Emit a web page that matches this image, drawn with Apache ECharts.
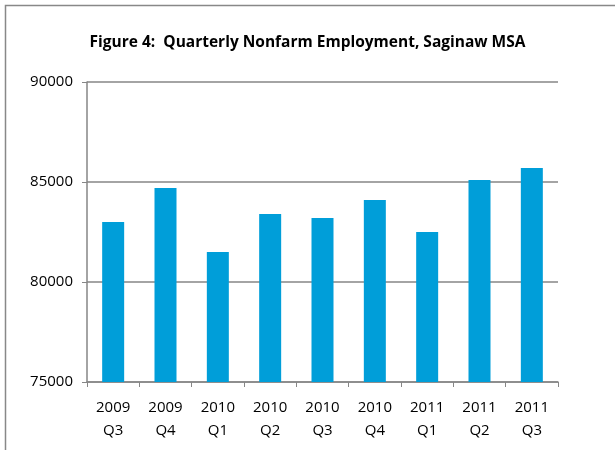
<!DOCTYPE html>
<html>
<head>
<meta charset="utf-8">
<script src="https://cdn.jsdelivr.net/npm/echarts@6/dist/echarts.min.js"></script>
<style>
  html, body { margin: 0; padding: 0; background: #fff; }
  #chart { width: 615px; height: 450px; }
</style>
</head>
<body>
<div id="chart"></div>
<script>
// quarters along the x axis
const quarters = ['2009\nQ3', '2009\nQ4', '2010\nQ1', '2010\nQ2', '2010\nQ3', '2010\nQ4', '2011\nQ1', '2011\nQ2', '2011\nQ3'];
// nonfarm employment
const employment = [83000, 84700, 81500, 83400, 83200, 84100, 82500, 85100, 85700];
const yMin = 75000;
const yMax = 90000;
const yStep = 5000;

const myChart = echarts.init(document.getElementById('chart'));
const font = 'Open Sans, Noto Sans, sans-serif';

const option = {
  animation: false,
  title: {
    text: 'Figure 4:  Quarterly Nonfarm Employment, Saginaw MSA',
    left: 'center',
    top: 30,
    textStyle: {
      fontFamily: font,
      fontSize: 15.5,
      fontWeight: 'bold',
      color: '#000'
    }
  },
  graphic: [
    {
      type: 'rect',
      shape: { x: 5.5, y: 5.5, width: 620, height: 460 },
      style: { fill: 'none', stroke: '#888', lineWidth: 1.5 }
    }
  ],
  grid: {
    left: 87,
    right: 57,
    top: 82,
    bottom: 68
  },
  xAxis: {
    type: 'category',
    data: quarters,
    axisLine: { lineStyle: { color: '#868686', width: 1.5 } },
    axisTick: { show: true, length: 5, lineStyle: { color: '#868686' } },
    axisLabel: {
      fontFamily: font,
      fontSize: 15,
      color: '#000',
      lineHeight: 23,
      margin: 14
    }
  },
  yAxis: {
    type: 'value',
    min: yMin,
    max: yMax,
    interval: yStep,
    axisLine: { show: true, lineStyle: { color: '#868686', width: 1.5 } },
    axisTick: { show: true, length: 5, lineStyle: { color: '#868686' } },
    axisLabel: {
      fontFamily: font,
      fontSize: 15,
      color: '#000',
      margin: 14,
      formatter: function (v) { return String(v); }
    },
    splitLine: {
      lineStyle: { color: '#868686', width: 1.5 }
    }
  },
  series: [
    {
      type: 'bar',
      data: employment,
      barWidth: 22,
      itemStyle: { color: '#009ed9' }
    }
  ]
};
myChart.setOption(option);
</script>
</body>
</html>
